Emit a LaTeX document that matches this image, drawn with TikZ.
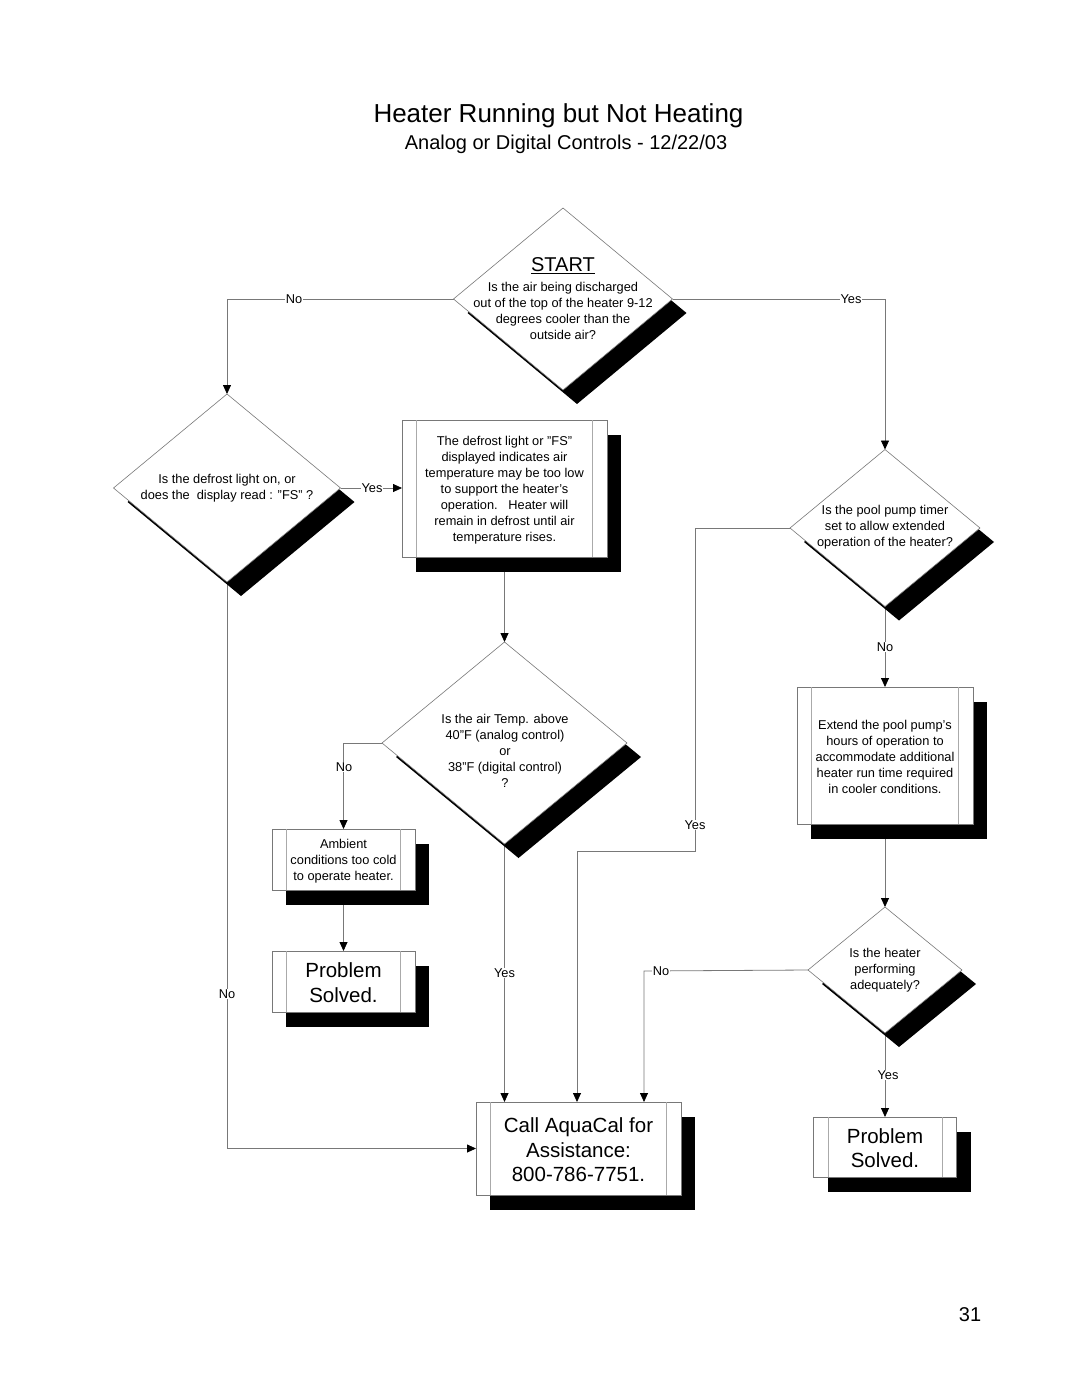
\documentclass[tikz,border=0pt]{standalone}
\usepackage{fontspec}
\setmainfont{Liberation Sans}
\usetikzlibrary{shapes.geometric,arrows.meta,calc}
\definecolor{linegray}{RGB}{120,120,120}
\definecolor{innergray}{RGB}{170,170,170}
\newcommand\myS{\fontsize{12.8}{16}\selectfont}
\newcommand\myL{\fontsize{20.5}{24.5}\selectfont}
\newcommand\decis[5]{%
  \node[dia, fill=black, draw=none, minimum width=#4, minimum height=#5] at (#2+14,#3+14) {};
  \node[dia, minimum width=#4, minimum height=#5] (#1) at (#2,#3) {};
}
\newcommand\procbox[7]{%
  \node[pbox, fill=black, draw=none, minimum width=#4, minimum height=#5] at (#2+14,#3+15) {};
  \node[pbox, minimum width=#4, minimum height=#5] (#1) at (#2,#3) {};
  \draw[innerln] ([xshift=14.5pt]#1.north west) -- ([xshift=14.5pt]#1.south west);
  \draw[innerln] ([xshift=-14.5pt]#1.north east) -- ([xshift=-14.5pt]#1.south east);
  \node[align=center, inner sep=0, font=#6, yshift=-1.2pt] at (#1) {#7};
}
\begin{document}
\begin{tikzpicture}[x=1pt, y=-1pt,
  conn/.style={draw=linegray, line width=0.8pt, -{Triangle[length=9pt,width=8pt,color=black]}},
  dia/.style={diamond, draw=linegray, fill=white, line width=0.6pt, inner sep=0, outer sep=0},
  pbox/.style={rectangle, draw=linegray, fill=white, line width=0.8pt, inner sep=0, outer sep=0},
  innerln/.style={draw=innergray, line width=0.8pt},
  lbl/.style={fill=white, inner sep=1pt, font=\myS},
  qtext/.style={align=center, inner sep=0, font=\myS},
]
\fill[white] (0,0) rectangle (1080,1397);
\useasboundingbox (0,0) rectangle (1080,1397);

% titles
\node[font=\fontsize{26}{30}\selectfont] (title) at (558.5,116) {Heater Running but Not Heating};
\node[font=\fontsize{20}{24}\selectfont] (subtitle) at (566,144) {Analog or Digital Controls - 12/22/03};
\node[font=\fontsize{20}{24}\selectfont] (pagenum) at (970,1315) {31};

\coordinate (c1) at (695,851);
\coordinate (c2) at (577,851);
\coordinate (c3) at (644,971);

% invisible shapes first, to give the connectors their anchors
\begin{scope}[opacity=0]
\node[dia, minimum width=219, minimum height=182] (d1) at (563,299) {};
\node[dia, minimum width=227, minimum height=188] (d2) at (227,488) {};
\node[pbox, minimum width=205, minimum height=137] (b1) at (504.5,488.5) {};
\node[dia, minimum width=190, minimum height=157] (d3) at (885,528) {};
\node[dia, minimum width=245, minimum height=202] (d4) at (504.5,743) {};
\node[pbox, minimum width=143, minimum height=61] (b2) at (343.5,859.5) {};
\node[pbox, minimum width=143, minimum height=61] (b3) at (343.5,981.5) {};
\node[pbox, minimum width=176, minimum height=137] (b4) at (885,755.5) {};
\node[dia, minimum width=154, minimum height=126] (d5) at (885,970) {};
\node[pbox, minimum width=205, minimum height=93] (b5) at (578.5,1148.5) {};
\node[pbox, minimum width=143, minimum height=60] (b6) at (885,1147) {};
\end{scope}

\draw[conn] (d1.west) -| (d2.north);
\draw[conn] (d1.east) -| (d3.north);
\draw[conn] (d2.east) -- (d2.east -| b1.west);
\draw[conn] (d2.south) |- (b5.west);
\draw[conn] (b1.south) -- (d4.north);
\draw[conn] (d4.west) -| (b2.north);
\draw[conn] (b2.south) -- (b3.north);
\draw[conn] (d4.south) -- (d4.south |- b5.north);
\draw[conn] (d3.west) -| (c1) -- (c2) -- (b5.north -| c2);
\draw[conn] (d3.south) -- (b4.north);
\draw[conn] (b4.south) -- (d5.north);
\draw[conn] (d5.west) -- (c3) -- (b5.north -| c3);
\draw[conn] (d5.south) -- (b6.north);

% connector labels
\node[lbl] (l1) at (294,299) {No};
\node[lbl] (l2) at (851,299) {Yes};
\node[lbl] (l3) at (372,488) {Yes};
\node[lbl] (l4) at (227,994) {No};
\node[lbl] (l5) at (344,767) {No};
\node[lbl] (l6) at (504.5,973) {Yes};
\node[lbl] (l7) at (695,825) {Yes};
\node[lbl] (l8) at (885,647) {No};
\node[lbl] (l9) at (661,971) {No};
\node[lbl] (l10) at (888,1075) {Yes};

% --- decision diamonds ---
\decis{d1}{563}{299}{219}{182}
\node[font=\fontsize{20}{24}\selectfont, inner sep=0] (start) at (563,266) {\underline{START}};
\node[qtext] (q1) at (563,311) {Is the air being discharged\\out of the top of the heater 9-12\\degrees cooler than the\\outside air?};

\decis{d2}{227}{488}{227}{188}
\node[qtext] (q2) at (227,488) {Is the defrost light on, or\\does the\ \ display read : "FS" ?};

\decis{d3}{885}{528}{190}{157}
\node[qtext] (q3) at (885,527) {Is the pool pump timer\\set to allow extended\\operation of the heater?};

\decis{d4}{504.5}{743}{245}{202}
\node[qtext] (q4) at (505,751) {Is the air Temp. above\\40''F (analog control)\\or\\38''F (digital control)\\?};

\decis{d5}{885}{970}{154}{126}
\node[qtext] (q5) at (885,970) {Is the heater\\performing\\adequately?};

% --- process boxes ---
\procbox{b1}{504.5}{488.5}{205}{137}{\myS}{The defrost light or "FS"\\displayed indicates air\\temperature may be too low\\to support the heater's\\operation.\ \ \ Heater will\\remain in defrost until air\\temperature rises.}
\procbox{b2}{343.5}{859.5}{143}{61}{\myS}{Ambient\\conditions too cold\\to operate heater.}
\procbox{b3}{343.5}{981.5}{143}{61}{\myL}{Problem\\Solved.}
\procbox{b4}{885}{755.5}{176}{137}{\myS}{Extend the pool pump's\\hours of operation to\\accommodate additional\\heater run time required\\in cooler conditions.}
\procbox{b5}{578.5}{1148.5}{205}{93}{\myL}{Call AquaCal for\\Assistance:\\800-786-7751.}
\procbox{b6}{885}{1147}{143}{60}{\myL}{Problem\\Solved.}
\end{tikzpicture}
\end{document}
